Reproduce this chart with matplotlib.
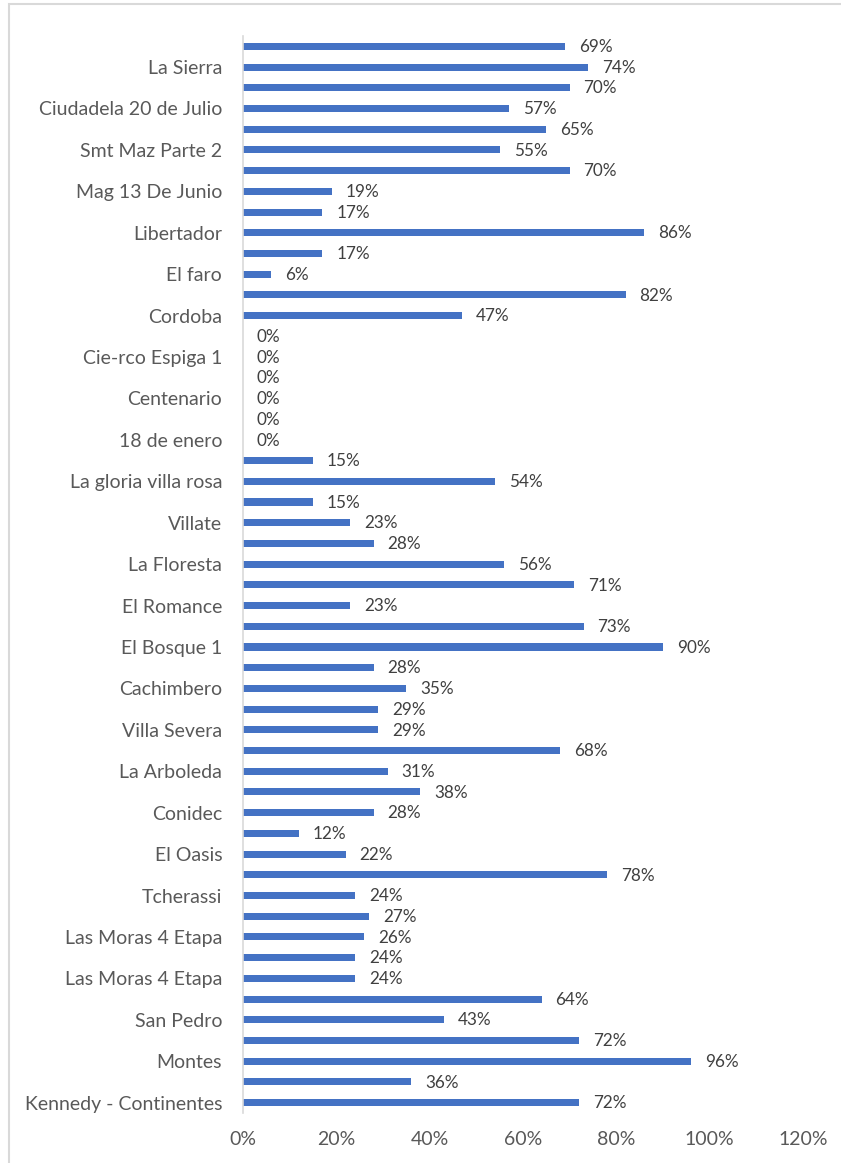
import matplotlib
matplotlib.use("Agg")
from matplotlib import pyplot as plt
from matplotlib.patches import Rectangle
from matplotlib.ticker import PercentFormatter

plt.rcParams['font.family'] = ['Lato', 'DejaVu Sans']

## barrios, top to bottom as listed on the chart
barrios = ["La Sierra", "Ciudadela 20 de Julio", "Smt Maz Parte 2", "Mag 13 De Junio",
           "Libertador", "El faro", "Cordoba", "Cie-rco Espiga 1", "Centenario",
           "18 de enero", "La gloria villa rosa", "Villate", "La Floresta", "El Romance",
           "El Bosque 1", "Cachimbero", "Villa Severa", "La Arboleda", "Conidec",
           "El Oasis", "Tcherassi", "Las Moras 4 Etapa", "Las Moras 4 Etapa",
           "San Pedro", "Montes", "Kennedy - Continentes"]

## two bars per barrio, top to bottom (percent)
valores = [69, 74, 70, 57, 65, 55, 70, 19, 17, 86, 17, 6, 82, 47,
           0, 0, 0, 0, 0, 0, 15, 54, 15, 23, 28, 56, 71, 23, 73, 90,
           28, 35, 29, 29, 68, 31, 38, 28, 12, 22, 78, 24, 27, 26, 24, 24,
           64, 43, 72, 96, 36, 72]

x_ticks = [0, 20, 40, 60, 80, 100, 120]

W, H = 841, 1163
fig = plt.figure(figsize=(W / 100, H / 100), dpi=100)
ax = fig.add_axes([243 / W, 1 - 1113 / H, 560 / W, 1077 / H])

# bottom of the chart is index 0
vals = [v / 100 for v in valores[::-1]]
ys = list(range(len(vals)))
ax.barh(ys, vals, height=0.34, color="#4472C4")

for y, v in zip(ys, vals):
    ax.annotate("{:.0f}%".format(v * 100), (v, y), xytext=(10, -0.5),
                textcoords="offset points", va="center", ha="left",
                fontsize=12.3, color="#404040")

# only every other bar carries a name
ax.set_yticks(ys[::2])
ax.set_yticklabels(barrios[::-1], fontsize=14, color="#595959")
ax.set_ylim(-0.5, len(vals) - 0.5)

ax.set_xlim(0, 1.2)
ax.set_xticks([t / 100 for t in x_ticks])
ax.xaxis.set_major_formatter(PercentFormatter(1.0, decimals=0))
for lbl in ax.get_xticklabels():
    lbl.set_fontsize(14)
    lbl.set_color("#595959")

ax.tick_params(axis="y", length=0, pad=15)
ax.tick_params(axis="x", length=0, pad=13)
for s in ["top", "right", "bottom"]:
    ax.spines[s].set_visible(False)
ax.spines["left"].set_color("#D9D9D9")
ax.spines["left"].set_linewidth(1.2)

# chart area border
fig.patches.append(Rectangle((9 / W, -0.1), 1.1, 1.1 - 4 / H, transform=fig.transFigure,
                             fill=False, edgecolor="#D9D9D9", linewidth=1.5))

fig.savefig("out.png", dpi=100)
